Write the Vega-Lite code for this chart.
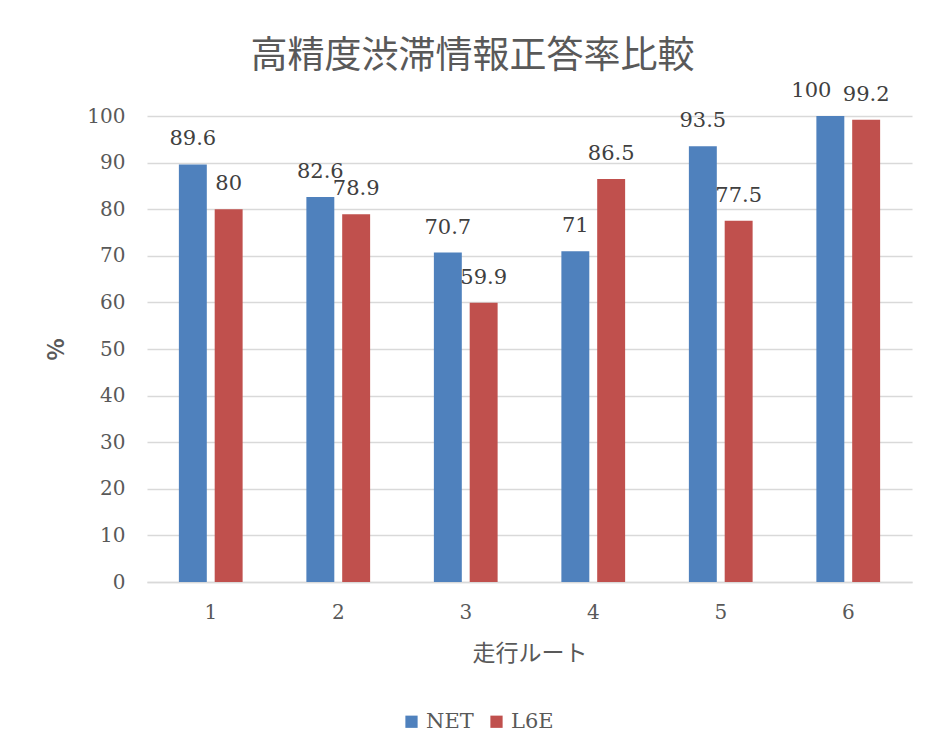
{
  "$schema": "https://vega.github.io/schema/vega-lite/v6.json",
  "width": 765,
  "height": 466,
  "autosize": "none",
  "padding": {"left": 147, "top": 116, "right": 16, "bottom": 174},
  "background": "white",
  "title": {
    "text": "高精度渋滞情報正答率比較",
    "font": "Noto Sans CJK JP",
    "fontSize": 37,
    "fontWeight": "normal",
    "color": "#595959",
    "anchor": "middle",
    "offset": 4,
    "dx": -57
  },
  "data": {
    "values": [
      {"route": "1", "series": "NET", "value": 89.6},
      {"route": "1", "series": "L6E", "value": 80},
      {"route": "2", "series": "NET", "value": 82.6},
      {"route": "2", "series": "L6E", "value": 78.9},
      {"route": "3", "series": "NET", "value": 70.7},
      {"route": "3", "series": "L6E", "value": 59.9},
      {"route": "4", "series": "NET", "value": 71},
      {"route": "4", "series": "L6E", "value": 86.5},
      {"route": "5", "series": "NET", "value": 93.5},
      {"route": "5", "series": "L6E", "value": 77.5},
      {"route": "6", "series": "NET", "value": 100},
      {"route": "6", "series": "L6E", "value": 99.2}
    ]
  },
  "encoding": {
    "x": {
      "field": "route",
      "type": "nominal",
      "sort": null,
      "scale": {"paddingInner": 0.5, "paddingOuter": 0.25},
      "axis": {
        "title": "走行ルート",
        "titleFont": "Noto Sans CJK JP",
        "titleFontSize": 23,
        "titleFontWeight": "normal",
        "titleColor": "#595959",
        "titlePadding": 20,
        "labelAngle": 0,
        "labelFont": "DejaVu Serif",
        "labelFontSize": 20,
        "labelColor": "#595959",
        "labelPadding": 20,
        "ticks": false,
        "domain": true,
        "domainColor": "#D9D9D9",
        "domainWidth": 1.5
      }
    },
    "xOffset": {
      "field": "series",
      "type": "nominal",
      "sort": ["NET", "L6E"],
      "scale": {"paddingInner": 0.22, "paddingOuter": 0}
    },
    "y": {
      "field": "value",
      "type": "quantitative",
      "scale": {"domain": [0, 100]},
      "axis": {
        "title": "%",
        "titleFont": "Noto Sans CJK JP",
        "titleFontSize": 23,
        "titleFontWeight": "bold",
        "titleColor": "#595959",
        "titlePadding": 18,
        "values": [0, 10, 20, 30, 40, 50, 60, 70, 80, 90, 100],
        "labelFont": "DejaVu Serif",
        "labelFontSize": 20,
        "labelColor": "#595959",
        "labelPadding": 22,
        "ticks": false,
        "domain": false,
        "grid": true,
        "gridColor": "#D9D9D9",
        "gridWidth": 1.5
      }
    }
  },
  "layer": [
    {
      "mark": {"type": "bar"},
      "encoding": {
        "color": {
          "field": "series",
          "type": "nominal",
          "sort": ["NET", "L6E"],
          "scale": {"domain": ["NET", "L6E"], "range": ["#4F81BD", "#C0504D"]},
          "legend": {
            "title": null,
            "orient": "none",
            "direction": "horizontal",
            "legendX": 254,
            "legendY": 595,
            "symbolType": "square",
            "symbolSize": 150,
            "symbolStrokeWidth": 0,
            "labelFont": "DejaVu Serif",
            "labelFontSize": 21,
            "labelColor": "#595959",
            "labelOffset": 4,
            "columnPadding": 12
          }
        }
      }
    },
    {
      "transform": [{"filter": "!(datum.route == '6' && datum.series == 'NET')"}],
      "mark": {
        "type": "text",
        "baseline": "middle",
        "dy": -25,
        "font": "DejaVu Serif",
        "fontSize": 21,
        "color": "#404040"
      },
      "encoding": {
        "text": {"field": "value", "type": "quantitative"}
      }
    },
    {
      "transform": [{"filter": "datum.route == '6' && datum.series == 'NET'"}],
      "mark": {
        "type": "text",
        "baseline": "middle",
        "dy": -25,
        "dx": -19,
        "font": "DejaVu Serif",
        "fontSize": 21,
        "color": "#404040"
      },
      "encoding": {
        "text": {"field": "value", "type": "quantitative"}
      }
    }
  ],
  "config": {
    "view": {"stroke": null}
  }
}
